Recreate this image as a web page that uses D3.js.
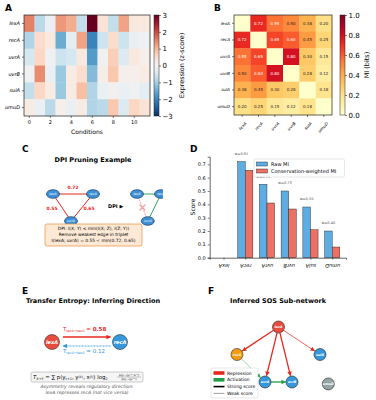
<!DOCTYPE html>
<html>
<head>
<meta charset="utf-8">
<script src="https://cdn.jsdelivr.net/npm/d3@7"></script>
<style>
  body { margin: 0; background: #fff; }
  svg { font-family: "DejaVu Sans", sans-serif; }
  .tick text { font-family: "DejaVu Sans", sans-serif; }
</style>
</head>
<body>
<svg id="fig" width="376" height="400"></svg>
<script>
// ---- data ----
var genes = ['lexA', 'recA', 'uvrA', 'uvrB', 'sulA', 'umuD'];
var conditions = [0, 1, 2, 3, 4, 5, 6, 7, 8, 9, 10, 11];
var condTicks = [0, 2, 4, 6, 8, 10];
// z-scored expression, rows = genes
var expr = [
  [1.5, -0.8, -0.2, 1.3, 1.1, -0.7, 3.0, 0.4, -0.7, 1.2, 0.3, 0.3],
  [-0.9, 0.5, 0.3, -1.5, -0.3, 1.2, -2.0, -0.6, 0.5, -0.6, -0.2, -0.1],
  [-0.5, 0.6, -0.1, -0.6, -0.5, 0.3, -1.7, -0.05, 0.7, -0.4, 0.3, 0.1],
  [-0.1, 1.4, -0.2, -1.1, 0.2, 0.5, -1.3, 0.15, 0.8, 0.1, 0.1, 0.2],
  [-0.7, 0.6, 0.2, -1.1, 0.2, 0.9, -0.9, -0.2, 0.0, -0.2, -0.1, -0.3],
  [0.2, -0.2, -0.8, 0.1, -0.2, 0.2, -0.9, -0.8, 0.8, -0.4, 0.6, 0.4]
];
var exprTicks = [-3, -2, -1, 0, 1, 2, 3];
// mutual information matrix (diagonal left blank)
var mi = [
  [0, 0.72, 0.55, 0.50, 0.38, 0.20],
  [0.72, 0, 0.65, 0.60, 0.45, 0.25],
  [0.55, 0.65, 0, 0.80, 0.30, 0.15],
  [0.50, 0.60, 0.80, 0, 0.28, 0.12],
  [0.38, 0.45, 0.30, 0.28, 0, 0.18],
  [0.20, 0.25, 0.15, 0.12, 0.18, 0]
];
var miTicks = [0, 0.2, 0.4, 0.6, 0.8, 1.0];
// panel D
var rawMI = [0, 0.72, 0.55, 0.50, 0.38, 0.20];
var weightedMI = [0, 0.655, 0.41, 0.365, 0.21, 0.08];
var consWeight = [null, 0.91, 0.75, 0.73, 0.55, 0.40];
var scoreTicks = [0, 0.1, 0.2, 0.3, 0.4, 0.5, 0.6, 0.7];
// panel C triplet
var dpiEdges = [
  { a: 'lexA', b: 'recA', mi: 0.72 },
  { a: 'lexA', b: 'uvrA', mi: 0.55 },
  { a: 'recA', b: 'uvrA', mi: 0.65 }
];
// panel E
var teForward = 0.58, teBackward = 0.12;
// panel F network
var netNodes = [
  { id: 'lexA', kind: 'repressor' },
  { id: 'recA', kind: 'activator' },
  { id: 'sulA', kind: 'target' },
  { id: 'uvrA', kind: 'target' },
  { id: 'uvrB', kind: 'target' },
  { id: 'umuD', kind: 'none' }
];
var netEdges = [
  { s: 'lexA', t: 'recA', type: 'rep', strong: true },
  { s: 'lexA', t: 'uvrA', type: 'rep', strong: true },
  { s: 'lexA', t: 'uvrB', type: 'rep', strong: true },
  { s: 'lexA', t: 'sulA', type: 'rep', strong: false },
  { s: 'recA', t: 'uvrA', type: 'act', strong: false },
  { s: 'uvrA', t: 'uvrB', type: 'act', strong: true }
];

var svg = d3.select('#fig');
var defs = svg.append('defs');

function panelLabel(x, y, t) {
  svg.append('text').attr('x', x).attr('y', y).text(t)
    .style('font-size', '9px').style('font-weight', 'bold');
}
function arrowMarker(id, color) {
  defs.append('marker').attr('id', id)
    .attr('viewBox', '0 0 10 10').attr('refX', 9).attr('refY', 5)
    .attr('markerWidth', 4.5).attr('markerHeight', 4.5)
    .attr('markerUnits', 'userSpaceOnUse').attr('orient', 'auto')
    .append('path').attr('d', 'M0,0 L10,5 L0,10 z').attr('fill', color);
}
function vGradient(id, interp) {
  var g = defs.append('linearGradient').attr('id', id)
    .attr('x1', 0).attr('y1', 1).attr('x2', 0).attr('y2', 0);
  d3.range(0, 1.001, 0.05).forEach(function(t) {
    g.append('stop').attr('offset', t).attr('stop-color', interp(t));
  });
}

// ================= A: expression heatmap =================
panelLabel(5, 11, 'A');
var ax = d3.scaleBand().domain(conditions).range([24, 150]);
var ay = d3.scaleBand().domain(genes).range([15, 116]);
var rdbu = function(t) { return d3.interpolateRdBu(1 - t); };
var ac = d3.scaleSequential(rdbu).domain([-3, 3]);
var gA = svg.append('g');
genes.forEach(function(g, i) {
  gA.selectAll(null).data(expr[i]).enter().append('rect')
    .attr('x', function(d, j) { return ax(j); })
    .attr('y', ay(g))
    .attr('width', ax.bandwidth() + 0.3)
    .attr('height', ay.bandwidth() + 0.3)
    .attr('fill', function(d) { return ac(d); });
});
gA.append('rect').attr('x', 24).attr('y', 15).attr('width', 126).attr('height', 101)
  .attr('fill', 'none').attr('stroke', '#222').attr('stroke-width', 0.7);
var axisAx = d3.axisBottom(ax).tickValues(condTicks).tickSize(2).tickPadding(2);
gA.append('g').attr('transform', 'translate(0,116)').call(axisAx)
  .call(function(g) { g.select('.domain').remove(); })
  .selectAll('text').style('font-size', '5px');
var axisAy = d3.axisLeft(ay).tickSize(2).tickPadding(2);
gA.append('g').attr('transform', 'translate(24,0)').call(axisAy)
  .call(function(g) { g.select('.domain').remove(); })
  .selectAll('text').style('font-size', '5px').style('font-style', 'italic');
gA.selectAll('.tick line').attr('stroke-width', 0.5);
gA.append('text').attr('x', 87).attr('y', 134).attr('text-anchor', 'middle')
  .style('font-size', '6px').text('Conditions');
// colorbar
vGradient('gradA', rdbu);
gA.append('rect').attr('x', 154).attr('y', 15).attr('width', 5).attr('height', 101)
  .attr('fill', 'url(#gradA)').attr('stroke', '#222').attr('stroke-width', 0.5);
var acb = d3.scaleLinear().domain([-3, 3]).range([116, 15]);
gA.append('g').attr('transform', 'translate(159,0)')
  .call(d3.axisRight(acb).tickValues(exprTicks).tickSize(2).tickPadding(1.5)
    .tickFormat(function(d) { return d < 0 ? '\u2212' + (-d) : d; }))
  .call(function(g) { g.select('.domain').remove(); })
  .call(function(g) { g.selectAll('line').attr('stroke-width', 0.5); })
  .selectAll('text').style('font-size', '7px');
gA.append('text').attr('transform', 'translate(184,65.5) rotate(-90)')
  .attr('text-anchor', 'middle').style('font-size', '6.5px').text('Expression (z-score)');

// ================= B: MI heatmap =================
panelLabel(214, 11, 'B');
var bx = d3.scaleBand().domain(genes).range([234, 332]);
var by = d3.scaleBand().domain(genes).range([15, 115]);
var bc = d3.scaleSequential(d3.interpolateYlOrRd).domain([0, 1]);
var gB = svg.append('g');
genes.forEach(function(g, i) {
  gB.selectAll(null).data(mi[i]).enter().append('rect')
    .attr('x', function(d, j) { return bx(genes[j]); })
    .attr('y', by(g))
    .attr('width', bx.bandwidth() + 0.3).attr('height', by.bandwidth() + 0.3)
    .attr('fill', function(d) { return bc(d); });
  gB.selectAll(null).data(mi[i]).enter().append('text')
    .filter(function(d, j) { return j !== i; })
    .attr('x', function(d) { return bx(genes[mi[i].indexOf(d)]) + bx.bandwidth() / 2; })
    .attr('y', by(g) + by.bandwidth() / 2 + 1.4)
    .attr('text-anchor', 'middle').style('font-size', '4px')
    .attr('fill', function(d) { return d > 0.5 ? '#fff' : '#222'; })
    .text(function(d) { return d.toFixed(2); });
});
gB.append('rect').attr('x', 234).attr('y', 15).attr('width', 98).attr('height', 100)
  .attr('fill', 'none').attr('stroke', '#222').attr('stroke-width', 0.7);
gB.append('g').attr('transform', 'translate(234,0)')
  .call(d3.axisLeft(by).tickSize(2).tickPadding(2))
  .call(function(g) { g.select('.domain').remove(); })
  .selectAll('text').style('font-size', '4.2px').style('font-style', 'italic');
gB.append('g').attr('transform', 'translate(0,115)')
  .call(d3.axisBottom(bx).tickSize(2).tickPadding(2))
  .call(function(g) { g.select('.domain').remove(); })
  .selectAll('text').style('font-size', '4.2px').style('font-style', 'italic')
  .attr('text-anchor', 'end').attr('dy', 0)
  .attr('transform', 'translate(2,6) rotate(-45)');
gB.selectAll('.tick line').attr('stroke-width', 0.5);
vGradient('gradB', d3.interpolateYlOrRd);
gB.append('rect').attr('x', 340).attr('y', 15).attr('width', 5).attr('height', 100)
  .attr('fill', 'url(#gradB)').attr('stroke', '#222').attr('stroke-width', 0.5);
var bcb = d3.scaleLinear().domain([0, 1]).range([115, 15]);
gB.append('g').attr('transform', 'translate(345,0)')
  .call(d3.axisRight(bcb).tickValues(miTicks).tickSize(2).tickPadding(1.5).tickFormat(d3.format('.1f')))
  .call(function(g) { g.select('.domain').remove(); })
  .call(function(g) { g.selectAll('line').attr('stroke-width', 0.5); })
  .selectAll('text').style('font-size', '7px');
gB.append('text').attr('transform', 'translate(369,65) rotate(-90)')
  .attr('text-anchor', 'middle').style('font-size', '6.5px').text('MI (bits)');

// ================= C: DPI example =================
panelLabel(22, 152, 'C');
svg.append('text').attr('x', 93).attr('y', 162).attr('text-anchor', 'middle')
  .style('font-size', '6.5px').style('font-weight', 'bold').text('DPI Pruning Example');
defs.append('clipPath').attr('id', 'clipC').append('rect')
  .attr('x', 0).attr('y', 140).attr('width', 163).attr('height', 125);
var gC = svg.append('g').attr('clip-path', 'url(#clipC)');
// triangle layout (x,y in layout units), mapped through scales
var triLayout = { lexA: [0, 0], recA: [1, 0], uvrA: [0.45, 1] };
var cxL = d3.scaleLinear().domain([0, 1]).range([53, 93]);
var cxR = d3.scaleLinear().domain([0, 1]).range([137, 161]);
var cy = d3.scaleLinear().domain([0, 1]).range([194, 221]);
function triPos(sc, id) { return [sc(triLayout[id][0]), cy(triLayout[id][1])]; }
// left triangle
dpiEdges.forEach(function(e) {
  var p = triPos(cxL, e.a), q = triPos(cxL, e.b);
  gC.append('line').attr('x1', p[0]).attr('y1', p[1]).attr('x2', q[0]).attr('y2', q[1])
    .attr('stroke', '#e8281e').attr('stroke-width', 1);
  var mx = (p[0] + q[0]) / 2, my = (p[1] + q[1]) / 2;
  var off = e.a === 'lexA' && e.b === 'recA' ? [0, -5] : (e.a === 'lexA' ? [-10, 2] : [7, 2]);
  gC.append('text').attr('x', mx + off[0]).attr('y', my + off[1]).attr('text-anchor', 'middle')
    .attr('fill', '#e8281e').style('font-size', '4.5px').style('font-weight', 'bold')
    .text(e.mi.toFixed(2));
});
// right triangle (after pruning)
var weakest = dpiEdges.reduce(function(a, b) { return a.mi < b.mi ? a : b; });
dpiEdges.forEach(function(e) {
  var p = triPos(cxR, e.a), q = triPos(cxR, e.b);
  var pruned = e === weakest;
  gC.append('line').attr('x1', p[0]).attr('y1', p[1]).attr('x2', q[0]).attr('y2', q[1])
    .attr('stroke', pruned ? '#f4a0a0' : '#1e9e4a').attr('stroke-width', pruned ? 1 : 0.9)
    .attr('stroke-dasharray', pruned ? '2,1' : null);
  if (pruned) {
    var mx = (p[0] + q[0]) / 2, my = (p[1] + q[1]) / 2;
    gC.append('path').attr('d', 'M' + (mx - 3) + ',' + (my - 3) + 'L' + (mx + 3) + ',' + (my + 3) +
      'M' + (mx + 3) + ',' + (my - 3) + 'L' + (mx - 3) + ',' + (my + 3))
      .attr('stroke', '#f4a0a0').attr('stroke-width', 1.1);
  }
});
[cxL, cxR].forEach(function(sc) {
  Object.keys(triLayout).forEach(function(id) {
    var p = triPos(sc, id);
    gC.append('ellipse').attr('cx', p[0]).attr('cy', p[1]).attr('rx', 6.5).attr('ry', 4.3)
      .attr('fill', '#3d8fd6').attr('stroke', '#163a66').attr('stroke-width', 0.7);
    gC.append('text').attr('x', p[0]).attr('y', p[1] + 1.2).attr('text-anchor', 'middle')
      .attr('fill', '#fff').style('font-size', '3.4px').style('font-style', 'italic').text(id);
  });
});
gC.append('text').attr('x', 108).attr('y', 208).style('font-size', '5px')
  .style('font-weight', 'bold').text('DPI \u25B6');
gC.append('rect').attr('x', 45).attr('y', 224).attr('width', 97).attr('height', 22).attr('rx', 2)
  .attr('fill', '#fde9d6').attr('stroke', '#e8903a').attr('stroke-width', 0.7);
var boxLines = [
  'DPI: I(X; Y) \u2264 min(I(X; Z), I(Z; Y))',
  'Remove weakest edge in triplet',
  'I(lexA; uvrA) = ' + weakest.mi.toFixed(2) + ' < min(' + dpiEdges[0].mi.toFixed(2) + ', ' + dpiEdges[2].mi.toFixed(2) + ')'
];
boxLines.forEach(function(t, i) {
  gC.append('text').attr('x', 93.5).attr('y', 230 + i * 6.2).attr('text-anchor', 'middle')
    .style('font-size', '4.4px').text(t);
});

// ================= D: bar chart =================
panelLabel(190, 152, 'D');
var dx = d3.scaleLinear().domain([-0.635, 5.635]).range([209.7, 346]);
var dy = d3.scaleLinear().domain([0, 0.757]).range([257.7, 156.7]);
var bw = 0.35;
var gD = svg.append('g');
gD.selectAll('.raw').data(rawMI).enter().append('rect').attr('class', 'raw')
  .attr('x', function(d, i) { return dx(i - bw); })
  .attr('y', function(d) { return dy(d); })
  .attr('width', dx(bw) - dx(0))
  .attr('height', function(d) { return dy(0) - dy(d); })
  .attr('fill', '#5dade2').attr('stroke', '#1a1a1a').attr('stroke-width', 0.4);
gD.selectAll('.wt').data(weightedMI).enter().append('rect').attr('class', 'wt')
  .attr('x', function(d, i) { return dx(i); })
  .attr('y', function(d) { return dy(d); })
  .attr('width', dx(bw) - dx(0))
  .attr('height', function(d) { return dy(0) - dy(d); })
  .attr('fill', '#ec7063').attr('stroke', '#1a1a1a').attr('stroke-width', 0.4);
gD.selectAll('.wlab').data(consWeight).enter().filter(function(d) { return d !== null; })
  .append('text')
  .attr('x', function(d) { return dx(consWeight.indexOf(d) - bw / 2); })
  .attr('y', function(d) { return dy(rawMI[consWeight.indexOf(d)] + 0.05); })
  .attr('text-anchor', 'middle').attr('fill', '#555').style('font-size', '3.6px')
  .text(function(d) { return 'w=' + d.toFixed(2); });
gD.append('g').attr('transform', 'translate(209.7,0)')
  .call(d3.axisLeft(dy).tickValues(scoreTicks).tickSize(2).tickPadding(2).tickFormat(d3.format('.1f')))
  .selectAll('text').style('font-size', '5px');
gD.append('g').attr('transform', 'translate(0,257.7)')
  .call(d3.axisBottom(dx).tickValues(d3.range(genes.length)).tickSize(2).tickPadding(2)
    .tickFormat(function(i) { return genes[i]; }))
  .selectAll('text').style('font-size', '5px').style('font-style', 'italic')
  .attr('dy', 0).attr('transform', 'translate(0,6) rotate(180)').attr('y', 0);
gD.selectAll('.domain').attr('stroke-width', 0.6);
gD.selectAll('.tick line').attr('stroke-width', 0.5);
gD.append('text').attr('transform', 'translate(195,207) rotate(-90)').attr('text-anchor', 'middle')
  .style('font-size', '6px').text('Score');
// legend
var lg = gD.append('g').attr('transform', 'translate(254,159)');
lg.append('rect').attr('width', 90.5).attr('height', 18).attr('rx', 1.5)
  .attr('fill', '#fff').attr('fill-opacity', 0.85).attr('stroke', '#ccc').attr('stroke-width', 0.5);
[['Raw MI', '#5dade2'], ['Conservation-weighted MI', '#ec7063']].forEach(function(d, i) {
  lg.append('rect').attr('x', 2.5).attr('y', 3 + i * 7).attr('width', 11).attr('height', 4)
    .attr('fill', d[1]).attr('stroke', '#1a1a1a').attr('stroke-width', 0.4);
  lg.append('text').attr('x', 17).attr('y', 6.8 + i * 7).style('font-size', '5px').text(d[0]);
});

// ================= E: transfer entropy =================
panelLabel(22, 294, 'E');
svg.append('text').attr('x', 93).attr('y', 303).attr('text-anchor', 'middle')
  .style('font-size', '6.5px').style('font-weight', 'bold').text('Transfer Entropy: Inferring Direction');
arrowMarker('arrRedE', '#e8281e');
arrowMarker('arrBlueE', '#3498db');
var ex = d3.scaleLinear().domain([0, 1]).range([52, 120]);
var gE = svg.append('g');
gE.append('line').attr('x1', ex(0.16)).attr('y1', 337).attr('x2', ex(0.86)).attr('y2', 337)
  .attr('stroke', '#e8281e').attr('stroke-width', 1.6).attr('marker-end', 'url(#arrRedE)');
gE.append('line').attr('x1', ex(0.86)).attr('y1', 346).attr('x2', ex(0.16)).attr('y2', 346)
  .attr('stroke', '#3498db').attr('stroke-width', 0.9).attr('stroke-dasharray', '2,1')
  .attr('marker-end', 'url(#arrBlueE)');
var t1 = gE.append('text').attr('x', ex(0.16)).attr('y', 331).attr('fill', '#e8281e').style('font-size', '5.5px');
t1.append('tspan').text('T');
t1.append('tspan').attr('dy', 1.2).style('font-size', '3.5px').text('lexA\u2192recA');
t1.append('tspan').attr('dy', -1.2).text(' = ');
t1.append('tspan').style('font-weight', 'bold').text(teForward.toFixed(2));
var t2 = gE.append('text').attr('x', ex(0.16)).attr('y', 352.5).attr('fill', '#3498db').style('font-size', '5.5px');
t2.append('tspan').text('T');
t2.append('tspan').attr('dy', 1.2).style('font-size', '3.5px').text('recA\u2192lexA');
t2.append('tspan').attr('dy', -1.2).text(' = ' + teBackward.toFixed(2));
[['lexA', '#e74c3c', 0], ['recA', '#3498db', 1]].forEach(function(d) {
  gE.append('circle').attr('cx', ex(d[2])).attr('cy', 342).attr('r', 7.5)
    .attr('fill', d[1]).attr('stroke', '#333').attr('stroke-width', 0.6);
  gE.append('text').attr('x', ex(d[2])).attr('y', 344).attr('text-anchor', 'middle')
    .attr('fill', '#fff').style('font-size', '5px').style('font-weight', 'bold')
    .style('font-style', 'italic').text(d[0]);
});
gE.append('rect').attr('x', 31).attr('y', 372).attr('width', 112).attr('height', 10).attr('rx', 1.5)
  .attr('fill', '#f5f5f5').attr('stroke', '#999').attr('stroke-width', 0.5);
var f = gE.append('text').attr('x', 33).attr('y', 379).style('font-size', '5.4px');
f.append('tspan').style('font-style', 'italic').text('T');
f.append('tspan').attr('dy', 1).style('font-size', '3.4px').text('X\u2192Y');
f.append('tspan').attr('dy', -1).text(' = \u2211 p(y');
f.append('tspan').attr('dy', 1).style('font-size', '3.4px').text('t+1');
f.append('tspan').attr('dy', -1).text(', y');
f.append('tspan').attr('dy', -1.4).style('font-size', '3.4px').text('(k)');
f.append('tspan').attr('dy', 1.4).text(', x');
f.append('tspan').attr('dy', -1.4).style('font-size', '3.4px').text('(l)');
f.append('tspan').attr('dy', 1.4).text(') log');
f.append('tspan').attr('dy', 1).style('font-size', '3.4px').text('2');
var fr = gE.append('g').attr('transform', 'translate(129,377)');
fr.append('text').attr('x', 0).attr('y', -1).attr('text-anchor', 'middle').style('font-size', '2.8px')
  .text('p(y\u209C\u208A\u2081|y\u209C\u207D\u1D4F\u207E,x\u209C\u207D\u02E1\u207E)');
fr.append('line').attr('x1', -12).attr('x2', 12).attr('y1', 0).attr('y2', 0).attr('stroke', '#222').attr('stroke-width', 0.25);
fr.append('text').attr('x', 0).attr('y', 2.8).attr('text-anchor', 'middle').style('font-size', '2.8px')
  .text('p(y\u209C\u208A\u2081|y\u209C\u207D\u1D4F\u207E)');
gE.append('text').attr('x', 87).attr('y', 388).attr('text-anchor', 'middle').attr('fill', '#555')
  .style('font-size', '4.6px').style('font-style', 'italic').text('Asymmetry reveals regulatory direction:');
gE.append('text').attr('x', 87).attr('y', 393.5).attr('text-anchor', 'middle').attr('fill', '#555')
  .style('font-size', '4.6px').style('font-style', 'italic').text('lexA represses recA (not vice versa)');

// ================= F: inferred network =================
panelLabel(208, 294, 'F');
svg.append('text').attr('x', 278).attr('y', 303).attr('text-anchor', 'middle')
  .style('font-size', '6.5px').style('font-weight', 'bold').text('Inferred SOS Sub-network');
var netLayout = { lexA: [2, 0], recA: [0, 1], sulA: [4, 1], uvrA: [1.35, 2], uvrB: [2.65, 2], umuD: [4.4, 2.07] };
var fx = d3.scaleLinear().domain([0, 4]).range([237, 320]);
var fy = d3.scaleLinear().domain([0, 2]).range([327, 382]);
var kindColor = { repressor: '#e74c3c', activator: '#f39c12', target: '#3498db', none: '#95a5a6' };
var typeColor = { rep: '#e8281e', act: '#1e9e4a' };
arrowMarker('arrRep', typeColor.rep);
arrowMarker('arrAct', typeColor.act);
var nodeR = 6;
var gF = svg.append('g');
netEdges.forEach(function(e) {
  var p = [fx(netLayout[e.s][0]), fy(netLayout[e.s][1])];
  var q = [fx(netLayout[e.t][0]), fy(netLayout[e.t][1])];
  var dxv = q[0] - p[0], dyv = q[1] - p[1], L = Math.sqrt(dxv * dxv + dyv * dyv);
  var ux = dxv / L, uy = dyv / L;
  gF.append('line')
    .attr('x1', p[0] + ux * nodeR).attr('y1', p[1] + uy * nodeR)
    .attr('x2', q[0] - ux * (nodeR + 0.5)).attr('y2', q[1] - uy * (nodeR + 0.5))
    .attr('stroke', typeColor[e.type])
    .attr('stroke-width', e.strong ? 1.3 : 0.8)
    .attr('stroke-opacity', e.strong ? 1 : (e.type === 'act' ? 0.55 : 0.9))
    .attr('marker-end', 'url(#' + (e.type === 'rep' ? 'arrRep' : 'arrAct') + ')');
});
netNodes.forEach(function(n) {
  var p = [fx(netLayout[n.id][0]), fy(netLayout[n.id][1])];
  gF.append('circle').attr('cx', p[0]).attr('cy', p[1]).attr('r', nodeR)
    .attr('fill', kindColor[n.kind]).attr('stroke', '#222').attr('stroke-width', 0.6);
  gF.append('text').attr('x', p[0]).attr('y', p[1] + 1.1).attr('text-anchor', 'middle')
    .attr('fill', '#fff').style('font-size', '3.3px').style('font-weight', 'bold')
    .style('font-style', 'italic').text(n.id);
});
var fl = gF.append('g').attr('transform', 'translate(211,368)');
fl.append('rect').attr('width', 47).attr('height', 30).attr('rx', 1.5)
  .attr('fill', '#fff').attr('fill-opacity', 0.9).attr('stroke', '#ccc').attr('stroke-width', 0.5);
var legF = [
  { label: 'Repression', color: typeColor.rep, patch: true },
  { label: 'Activation', color: typeColor.act, patch: true },
  { label: 'Strong score', color: '#000', w: 1.6 },
  { label: 'Weak score', color: '#888', w: 0.8 }
];
legF.forEach(function(d, i) {
  var y = 5 + i * 6.8;
  if (d.patch) {
    fl.append('rect').attr('x', 2.5).attr('y', y - 1.8).attr('width', 11).attr('height', 3.6).attr('fill', d.color);
  } else {
    fl.append('line').attr('x1', 2.5).attr('x2', 13.5).attr('y1', y).attr('y2', y)
      .attr('stroke', d.color).attr('stroke-width', d.w);
  }
  fl.append('text').attr('x', 16).attr('y', y + 1.6).style('font-size', '4.5px').text(d.label);
});
</script>
</body>
</html>
